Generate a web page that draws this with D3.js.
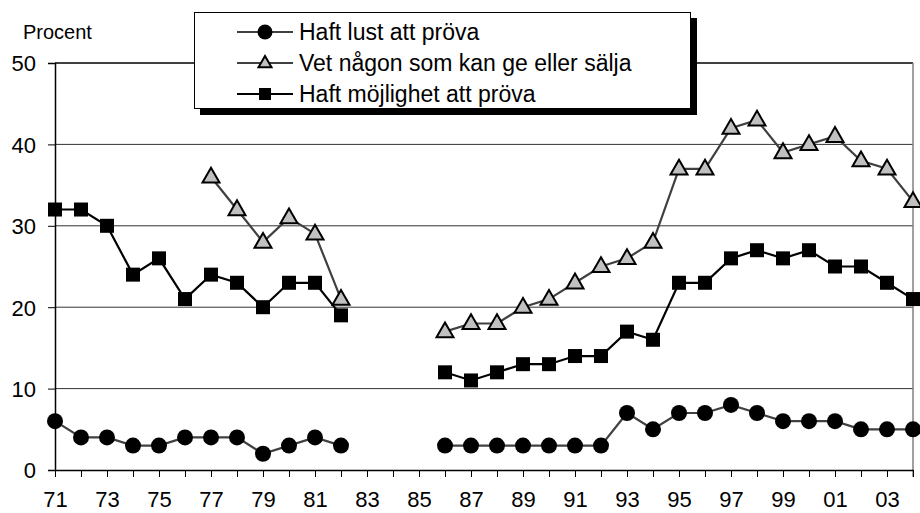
<!DOCTYPE html>
<html>
<head>
<meta charset="utf-8">
<script src="https://cdn.jsdelivr.net/npm/d3@7"></script>
<style>
body { margin: 0; background: #fff; }
text { font-family: "Liberation Sans", Arial, sans-serif; fill: #000; }
</style>
</head>
<body>
<script>
// years on the x axis, 1971 - 2004
var years = d3.range(1971, 2005);

// series values, null where the survey has no figure
var lust = [6,4,4,3,3,4,4,4,2,3,4,3, null,null,null, 3,3,3,3,3,3,3,7,5,7,7,8,7,6,6,6,5,5,5];
var vet = [null,null,null,null,null,null,36,32,28,31,29,21, null,null,null, 17,18,18,20,21,23,25,26,28,37,37,42,43,39,40,41,38,37,33];
var mojlighet = [32,32,30,24,26,21,24,23,20,23,23,19, null,null,null, 12,11,12,13,13,14,14,17,16,23,23,26,27,26,27,25,25,23,21];

var seriesNames = ["Haft lust att pröva", "Vet någon som kan ge eller sälja", "Haft möjlighet att pröva"];
var yTicks = [0, 10, 20, 30, 40, 50];

var width = 920, height = 513;
var svg = d3.select("body").append("svg").attr("width", width).attr("height", height);

var x = d3.scaleLinear().domain([1971, 2004]).range([55, 913]);
var y = d3.scaleLinear().domain([0, 50]).range([470, 63]);

// gridlines
svg.append("g").selectAll("line").data(yTicks.filter(function(d){ return d > 0 && d < 50; }))
  .enter().append("line")
  .attr("x1", x(1971)).attr("x2", x(2004))
  .attr("y1", function(d){ return y(d); }).attr("y2", function(d){ return y(d); })
  .attr("stroke", "#333").attr("stroke-width", 1);

// frame top and right
svg.append("line").attr("x1", x(1971)).attr("x2", x(2004)).attr("y1", y(50)).attr("y2", y(50))
  .attr("stroke", "#000").attr("stroke-width", 1.3);
svg.append("line").attr("x1", x(2004)).attr("x2", x(2004)).attr("y1", y(50)).attr("y2", y(0) + 7)
  .attr("stroke", "#808080").attr("stroke-width", 1.5);

// y axis
var yAxis = svg.append("g").attr("transform", "translate(" + x(1971) + ",0)")
  .call(d3.axisLeft(y).tickValues(yTicks).tickSize(7).tickPadding(12).tickFormat(d3.format("d")));
yAxis.select(".domain").attr("stroke", "#000").attr("stroke-width", 1.5);
yAxis.selectAll("text").style("font-size", "22px").attr("dy", "0.36em");

// x axis
var xAxis = svg.append("g").attr("transform", "translate(0," + y(0) + ")")
  .call(d3.axisBottom(x).tickValues(years).tickSize(7).tickSizeOuter(0)
    .tickFormat(function(d){ return (d % 2 === 1) ? d3.format("02d")(d % 100) : ""; }));
xAxis.select(".domain").attr("stroke", "#000").attr("stroke-width", 1.5);
xAxis.selectAll("line").attr("stroke", "#000");
xAxis.selectAll("text").style("font-size", "22px").attr("y", 37).attr("dy", 0);

svg.append("text").attr("x", 23).attr("y", 39).style("font-size", "20px").text("Procent");

function seriesData(vals) {
  return years.map(function(yr, i){ return { year: yr, value: vals[i] }; });
}

var line = d3.line()
  .defined(function(d){ return d.value !== null; })
  .x(function(d){ return x(d.year); })
  .y(function(d){ return y(d.value); });

var triPath = function(s) {
  var h = s * 0.87;
  return "M0," + (-h * 0.62) + "L" + (s / 2) + "," + (h * 0.38) + "L" + (-s / 2) + "," + (h * 0.38) + "Z";
};

var series = [
  { name: seriesNames[0], vals: lust, lineColor: "#404040", shape: "circle" },
  { name: seriesNames[1], vals: vet, lineColor: "#404040", shape: "triangle" },
  { name: seriesNames[2], vals: mojlighet, lineColor: "#000", shape: "square" }
];

function drawMarker(g, shape, size) {
  if (shape === "circle") {
    g.append("circle").attr("r", size / 2).attr("fill", "#000");
  } else if (shape === "square") {
    g.append("rect").attr("x", -size / 2).attr("y", -size / 2).attr("width", size).attr("height", size).attr("fill", "#000");
  } else {
    g.append("path").attr("d", triPath(size)).attr("fill", "#c0c0c0").attr("stroke", "#000").attr("stroke-width", 2);
  }
}

series.forEach(function(s){
  var data = seriesData(s.vals);
  svg.append("path").datum(data).attr("d", line)
    .attr("fill", "none").attr("stroke", s.lineColor).attr("stroke-width", 2.2);
  var sizes = { circle: 16, square: 14, triangle: 17 };
  data.filter(function(d){ return d.value !== null; }).forEach(function(d){
    var g = svg.append("g").attr("transform", "translate(" + x(d.year) + "," + y(d.value) + ")");
    drawMarker(g, s.shape, sizes[s.shape]);
  });
});

// legend box with shadow
var leg = svg.append("g");
leg.append("rect").attr("x", 200).attr("y", 18).attr("width", 497).attr("height", 97).attr("fill", "#000");
leg.append("rect").attr("x", 194.5).attr("y", 12.5).attr("width", 496).attr("height", 96)
  .attr("fill", "#fff").attr("stroke", "#000").attr("stroke-width", 1);

var legRows = [32, 63, 94];
var legSizes = { circle: 15, square: 12, triangle: 13 };
series.forEach(function(s, i){
  var ly = legRows[i];
  leg.append("line").attr("x1", 237).attr("x2", 293).attr("y1", ly).attr("y2", ly)
    .attr("stroke", s.lineColor).attr("stroke-width", 2);
  var g = leg.append("g").attr("transform", "translate(265," + ly + ")");
  drawMarker(g, s.shape, legSizes[s.shape]);
  leg.append("text").attr("x", 299).attr("y", ly + 8).style("font-size", "23px").text(s.name);
});
</script>
</body>
</html>
